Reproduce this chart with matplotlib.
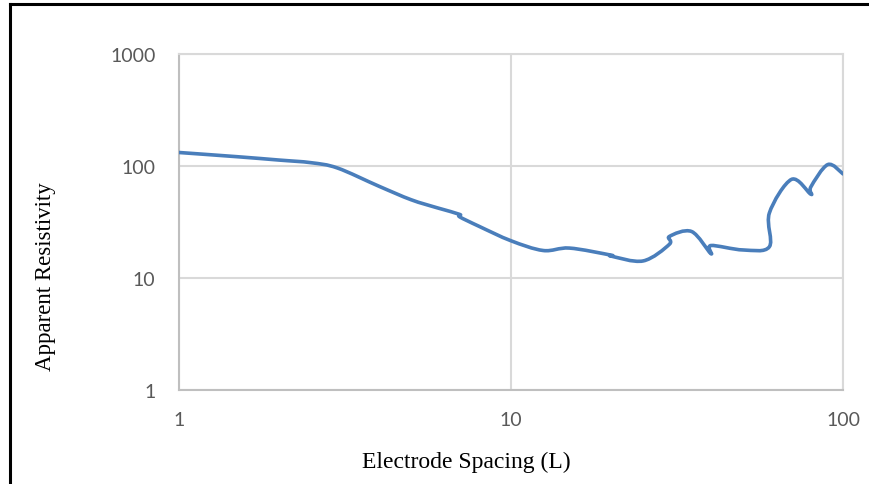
import numpy as np
import matplotlib
matplotlib.use("Agg")
import matplotlib.pyplot as plt
from matplotlib.path import Path
from matplotlib.patches import PathPatch
from matplotlib.lines import Line2D

# electrode spacing (L) and apparent resistivity
spacing = [1, 1.5, 2, 2.5, 3, 4, 5, 6, 7, 7, 8, 10, 12.5, 15, 20, 20,
           25, 30, 30, 35, 40, 40, 50, 60, 60, 70, 80, 80, 90, 100]
resistivity = [132, 121, 113, 107, 96, 66, 50, 42.3, 37.0, 35.2, 29, 21.5, 17.6, 18.5, 16.0, 15.7,
               14.2, 20, 23.5, 26, 16.5, 19.5, 17.8, 19, 38, 76, 56, 65, 103, 85]

xticks = [1, 10, 100]
yticks = [1, 10, 100, 1000]


def smooth_path(x, y):
    # Excel-style smoothed line (Catmull-Rom bezier in log space)
    P = np.column_stack([np.log10(x), np.log10(y)])
    n = len(P)
    verts = [P[0]]
    codes = [Path.MOVETO]
    for i in range(n - 1):
        p0 = P[i - 1] if i > 0 else P[i]
        p3 = P[i + 2] if i + 2 < n else P[i + 1]
        c1 = P[i] + (P[i + 1] - p0) / 6
        c2 = P[i + 1] - (p3 - P[i]) / 6
        verts += [c1, c2, P[i + 1]]
        codes += [Path.CURVE4] * 3
    return Path(10 ** np.array(verts), codes)


fig = plt.figure(figsize=(8.69, 4.85), dpi=100)
ax = fig.add_axes([179 / 869, 94 / 485, 664 / 869, 336 / 485])
ax.set_xscale("log")
ax.set_yscale("log")
ax.set_xlim(1, 100)
ax.set_ylim(1, 1000)

ax.add_patch(PathPatch(smooth_path(spacing, resistivity), fill=False,
                       edgecolor="#4a7ebb", lw=2.6, capstyle="round", joinstyle="round", zorder=3))

ax.set_xticks(xticks, [str(v) for v in xticks])
ax.set_yticks(yticks, [str(v) for v in yticks])
ax.minorticks_off()
ax.tick_params(length=0, labelsize=14, labelcolor="#595959")
ax.tick_params(axis="x", pad=15)
ax.tick_params(axis="y", pad=17)
for lab in ax.get_xticklabels() + ax.get_yticklabels():
    lab.set_family("Lato")
ax.grid(True, color="#d9d9d9", lw=1.5)
for s in ax.spines.values():
    s.set_color("#d9d9d9")
    s.set_linewidth(1.5)
ax.spines["left"].set_color("#bfbfbf")
ax.spines["bottom"].set_color("#bfbfbf")

fig.text(466 / 869, 1 - 462 / 485, "Electrode Spacing (L)", family="Liberation Serif",
         fontsize=17, ha="center", va="center")
fig.text(46 / 869, 1 - 277 / 485, "Apparent Resistivity", family="Liberation Serif",
         fontsize=16.5, ha="center", va="center", rotation=90)

# outer frame (only top and left edges visible)
fig.add_artist(Line2D([10 / 869, 10 / 869], [0, 1 - 5 / 485], color="black", lw=2.2,
                      transform=fig.transFigure))
fig.add_artist(Line2D([10 / 869, 1], [1 - 5 / 485, 1 - 5 / 485], color="black", lw=2.2,
                      transform=fig.transFigure))

fig.savefig("out.png", dpi=100)
